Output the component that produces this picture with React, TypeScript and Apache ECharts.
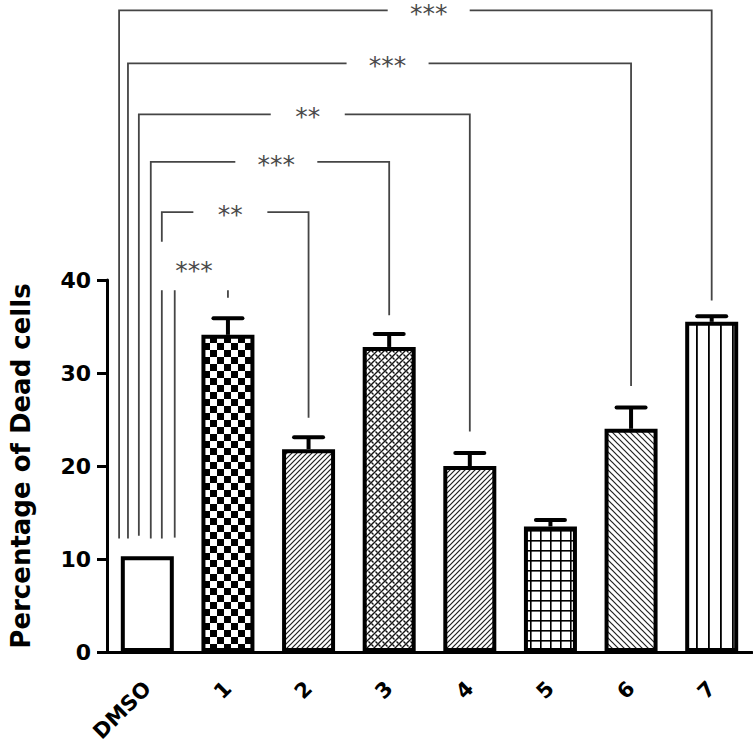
import React, { useEffect, useRef } from 'react';
import * as echarts from 'echarts';

const categories = ['DMSO', '1', '2', '3', '4', '5', '6', '7'];
const meanValues = [10.3, 34.1, 21.8, 32.8, 20.0, 13.5, 24.0, 35.5];
const errorValues = [0, 1.8, 1.3, 1.4, 1.4, 0.7, 2.3, 0.6];
const yMin = 0;
const yMax = 40;
const yStep = 10;

// significance brackets: DMSO compared with group
const bracketTargets = [7, 6, 4, 3, 2, 1];
const bracketLabels = ['***', '***', '**', '***', '**', '***'];
const bracketLevels = [69.0, 63.3, 57.8, 52.7, 47.3, 41.3];
const bracketHasBar = [true, true, true, true, true, false];
const bracketTops = [69.0, 63.3, 57.8, 52.7, 47.3, 38.9];
const bracketLeftPos = [-0.35, -0.24, -0.105, 0.043, 0.18, 0.34];
const bracketLabelPos = [3.49, 2.98, 1.99, 1.6, 1.03, 0.58];
const bracketLeftEnds = [12.2, 12.2, 12.5, 12.2, 12.2, 12.3];
const bracketRightEnds = [37.8, 28.6, 23.7, 36.2, 25.2, 38.1];
const bracketBreakTop = [null, null, null, null, 44.1, null];
const bracketBreakBottom = [null, null, null, null, 38.9, null];

function makePattern(w: number, h: number, draw: (ctx: CanvasRenderingContext2D) => void) {
  const c = document.createElement('canvas');
  c.width = w;
  c.height = h;
  const ctx = c.getContext('2d') as CanvasRenderingContext2D;
  ctx.fillStyle = '#ffffff';
  ctx.fillRect(0, 0, w, h);
  draw(ctx);
  return { image: c, repeat: 'repeat' } as any;
}

function diagUp(s: number, lw: number, col: string) {
  return (ctx: CanvasRenderingContext2D) => {
    ctx.strokeStyle = col;
    ctx.lineWidth = lw;
    ctx.beginPath();
    ctx.moveTo(-1, s + 1);
    ctx.lineTo(s + 1, -1);
    ctx.moveTo(-2, 2);
    ctx.lineTo(2, -2);
    ctx.moveTo(s - 2, s + 2);
    ctx.lineTo(s + 2, s - 2);
    ctx.stroke();
  };
}

function diagDown(s: number, lw: number, col: string) {
  return (ctx: CanvasRenderingContext2D) => {
    ctx.strokeStyle = col;
    ctx.lineWidth = lw;
    ctx.beginPath();
    ctx.moveTo(-1, -1);
    ctx.lineTo(s + 1, s + 1);
    ctx.moveTo(s - 2, -2);
    ctx.lineTo(s + 2, 2);
    ctx.moveTo(-2, s - 2);
    ctx.lineTo(2, s + 2);
    ctx.stroke();
  };
}

export default function App() {
  const ref = useRef<HTMLDivElement>(null);

  useEffect(() => {
    if (!ref.current) return;
    const white = '#ffffff';
    const checker = makePattern(14, 14, (ctx) => {
      ctx.fillStyle = '#000';
      ctx.fillRect(0, 0, 7, 7);
      ctx.fillRect(7, 7, 7, 7);
    });
    const hatchUp = makePattern(5, 5, diagUp(5, 1.2, '#222'));
    const weave = makePattern(7, 7, (ctx) => {
      diagUp(7, 1.4, '#111')(ctx);
      ctx.strokeStyle = '#111';
      ctx.lineWidth = 1.4;
      ctx.beginPath();
      ctx.moveTo(0.5, 0.5);
      ctx.lineTo(2.5, 2.5);
      ctx.moveTo(4.5, 4.5);
      ctx.lineTo(6.5, 6.5);
      ctx.stroke();
    });
    const hatchDown = makePattern(6, 6, diagDown(6, 1.2, '#222'));
    const grid = makePattern(10, 10, (ctx) => {
      ctx.fillStyle = '#000';
      ctx.fillRect(0, 0, 10, 1.6);
      ctx.fillRect(0, 0, 1.6, 10);
    });
    const vstripes = makePattern(12, 4, (ctx) => {
      ctx.fillStyle = '#000';
      ctx.fillRect(0, 0, 1.8, 4);
    });
    const fills = [white, checker, hatchUp, weave, hatchUp, grid, hatchDown, vstripes];

    const chart = echarts.init(ref.current, undefined, { renderer: 'svg' });
    const lineCol = '#454545';
    const starSize = 25;

    chart.setOption({
      animation: false,
      backgroundColor: '#ffffff',
      grid: { left: 104, right: 1, top: 280, bottom: 103, containLabel: false },
      xAxis: {
        type: 'category',
        data: categories,
        axisLine: { lineStyle: { color: '#000', width: 3 } },
        axisTick: { alignWithLabel: true, length: 9, lineStyle: { color: '#000', width: 3 } },
        axisLabel: {
          rotate: 45,
          margin: 33,
          color: '#000',
          fontFamily: 'DejaVu Sans',
          fontWeight: 'bold',
          fontSize: 21,
        },
        splitLine: { show: false },
      },
      yAxis: {
        type: 'value',
        min: yMin,
        max: yMax,
        interval: yStep,
        name: 'Percentage of Dead cells',
        nameLocation: 'middle',
        nameRotate: 90,
        nameGap: 73,
        nameTextStyle: { color: '#000', fontFamily: 'DejaVu Sans', fontWeight: 'bold', fontSize: 26 },
        axisLine: { show: true, lineStyle: { color: '#000', width: 3 } },
        axisTick: { show: true, length: 10, lineStyle: { color: '#000', width: 3 } },
        axisLabel: { margin: 16, color: '#000', fontFamily: 'DejaVu Sans', fontWeight: 'bold', fontSize: 22 },
        splitLine: { show: false },
      },
      series: [
        {
          type: 'bar',
          barWidth: 53,
          data: meanValues.map((v, i) => ({
            value: v,
            itemStyle: { color: fills[i], borderColor: '#000', borderWidth: 4 },
          })),
        },
        {
          type: 'custom',
          clip: false,
          data: meanValues.map((v, i) => [i, v, v + errorValues[i]]),
          renderItem: (params: any, api: any) => {
            const i = params.dataIndex;
            if (!errorValues[i]) return null;
            const base = api.coord([i, api.value(1)]);
            const top = api.coord([i, api.value(2)]);
            return {
              type: 'group',
              children: [
                {
                  type: 'line',
                  shape: { x1: base[0], y1: base[1], x2: top[0], y2: top[1] },
                  style: { stroke: '#000', lineWidth: 4 },
                },
                {
                  type: 'line',
                  shape: { x1: top[0] - 14.5, y1: top[1], x2: top[0] + 14.5, y2: top[1] },
                  style: { stroke: '#000', lineWidth: 4, lineCap: 'round' },
                },
              ],
            };
          },
        },
        {
          type: 'custom',
          clip: false,
          data: bracketTargets.map((t, i) => [t, bracketLevels[i]]),
          renderItem: (params: any, api: any) => {
            const i = params.dataIndex;
            const x0 = api.coord([0, 0])[0];
            const band = api.coord([1, 0])[0] - x0;
            const px = (c: number) => x0 + c * band;
            const py = (v: number) => api.coord([0, v])[1];
            const yLine = py(bracketLevels[i]);
            const xl = px(bracketLeftPos[i]);
            const xr = px(bracketTargets[i]);
            const xc = px(bracketLabelPos[i]);
            const half = bracketLabels[i].length === 3 ? 41 : 37;
            const st = { stroke: lineCol, lineWidth: 1.8, fill: null, lineJoin: 'miter' };
            const children: any[] = [];
            const yTop = py(bracketTops[i]);
            if (bracketHasBar[i]) {
              children.push({
                type: 'polyline',
                shape: { points: [[xc - half, yLine], [xl, yLine], [xl, bracketBreakTop[i] != null ? py(bracketBreakTop[i] as number) : py(bracketLeftEnds[i])]] },
                style: st,
              });
              if (bracketBreakBottom[i] != null) {
                children.push({
                  type: 'line',
                  shape: { x1: xl, y1: py(bracketBreakBottom[i] as number), x2: xl, y2: py(bracketLeftEnds[i]) },
                  style: st,
                });
              }
              children.push({
                type: 'polyline',
                shape: { points: [[xc + half, yLine], [xr, yLine], [xr, py(bracketRightEnds[i])]] },
                style: st,
              });
            } else {
              children.push({
                type: 'line',
                shape: { x1: xl, y1: yTop, x2: xl, y2: py(bracketLeftEnds[i]) },
                style: st,
              });
              children.push({
                type: 'line',
                shape: { x1: xr, y1: yTop, x2: xr, y2: py(bracketRightEnds[i]) },
                style: st,
              });
            }
            children.push({
              type: 'text',
              style: {
                x: xc,
                y: Math.max(yLine + 2.5, starSize / 2 + 1),
                text: bracketLabels[i],
                fill: '#4a4a4a',
                fontFamily: 'DejaVu Sans',
                fontSize: starSize,
                align: 'center',
                verticalAlign: 'middle',
              },
            });
            return { type: 'group', children };
          },
        },
      ],
    });

    return () => {
      chart.dispose();
    };
  }, []);

  return (
    <div
      ref={ref}
      style={{ position: 'fixed', left: 0, top: 0, width: 753, height: 755, background: '#fff' }}
    />
  );
}
